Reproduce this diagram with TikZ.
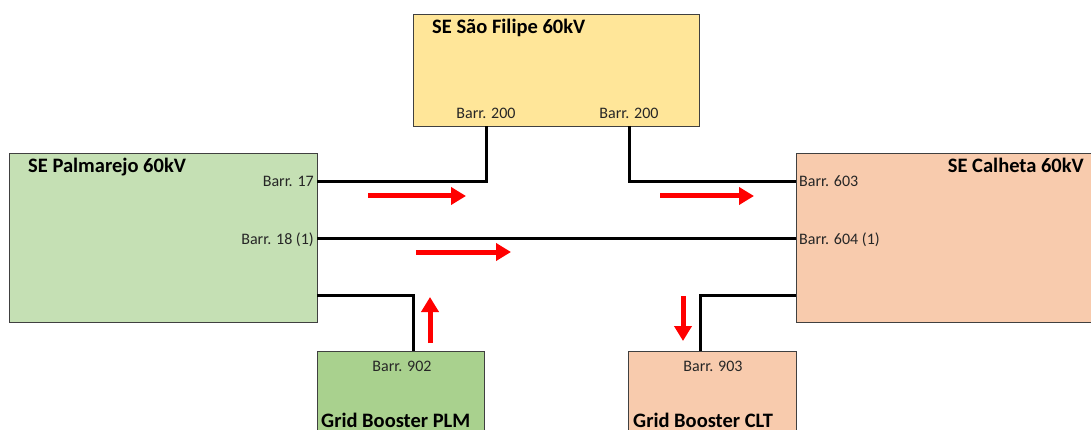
\documentclass[tikz,border=0pt]{standalone}
\usepackage{fontspec}
\setmainfont{Carlito}
\usetikzlibrary{arrows.meta}
\definecolor{cyel}{HTML}{FFE699}
\definecolor{cgrn}{HTML}{C5E0B4}
\definecolor{cdgrn}{HTML}{A9D18E}
\definecolor{corg}{HTML}{F8CBAD}
\tikzset{
  box/.style={draw=black!75, line width=0.9pt, anchor=north west, inner sep=0pt},
  ttl/.style={font=\fontsize{20.5}{24}\selectfont\bfseries, inner sep=0pt},
  bar/.style={font=\fontsize{16}{19}\selectfont, text=black!85, inner sep=0pt},
  wire/.style={draw=black, line width=3pt},
  flow/.style={draw=red, line width=5pt, -{Triangle[length=15pt,width=17pt]}}
}
\begin{document}
\begin{tikzpicture}[x=1pt,y=1pt]
\useasboundingbox[fill=white] (0,0) rectangle (1091,-430);
% boxes
\node[box, fill=cyel, minimum width=286pt, minimum height=112pt] (sf) at (413,-14) {};
\node[box, fill=cgrn, minimum width=308pt, minimum height=169pt] (pal) at (9,-153) {};
\node[box, fill=corg, minimum width=300pt, minimum height=169pt] (cal) at (796,-153) {};
\node[box, fill=cdgrn, minimum width=167pt, minimum height=90pt] (plm) at (317,-351) {};
\node[box, fill=corg, minimum width=168pt, minimum height=90pt] (clt) at (628,-351) {};
% titles
\node[ttl, anchor=base west] (tsf) at (432,-34) {SE São Filipe 60kV};
\node[ttl, anchor=base west] (tpal) at (28,-173) {SE Palmarejo 60kV};
\node[ttl, anchor=base east] (tcal) at (1084,-173) {SE Calheta 60kV};
\node[ttl, anchor=base west] (tplm) at (321,-427) {Grid Booster PLM};
\node[ttl, anchor=base west] (tclt) at (633,-427) {Grid Booster CLT};
% bar labels
\node[bar, anchor=base] (b200a) at (486,-119) {Barr. 200};
\node[bar, anchor=base] (b200b) at (629,-119) {Barr. 200};
\node[bar, anchor=base east] (b17) at (314,-187) {Barr. 17};
\node[bar, anchor=base east] (b18) at (314,-244) {Barr. 18 (1)};
\node[bar, anchor=base west] (b603) at (799,-187) {Barr. 603};
\node[bar, anchor=base west] (b604) at (799,-244) {Barr. 604 (1)};
\node[bar, anchor=base] (b902) at (402,-371) {Barr. 902};
\node[bar, anchor=base] (b903) at (713,-371) {Barr. 903};
% ports
\coordinate (p17) at (317,-182);
\coordinate (p18) at (317,-239);
\coordinate (pl3) at (317,-295);
\coordinate (s1) at (486,-126);
\coordinate (s2) at (629,-126);
\coordinate (p603) at (796,-182);
\coordinate (p604) at (796,-239);
\coordinate (c3) at (796,-295);
\coordinate (g1) at (413,-351);
\coordinate (g2) at (700,-351);
% wires
\draw[wire] (p17) -| (s1);
\draw[wire] (s2) |- (p603);
\draw[wire] (p18) -- (p604);
\draw[wire] (pl3) -| (g1);
\draw[wire] (c3) -| (g2);
% flow arrows
\coordinate (a1s) at (368,-196); \coordinate (a1e) at (466,-196);
\coordinate (a2s) at (660,-196); \coordinate (a2e) at (754,-196);
\coordinate (a3s) at (416,-252); \coordinate (a3e) at (511,-252);
\coordinate (a4s) at (430,-343); \coordinate (a4e) at (430,-297);
\coordinate (a5s) at (683,-296); \coordinate (a5e) at (683,-341);
\draw[flow] (a1s) -- (a1e);
\draw[flow] (a2s) -- (a2e);
\draw[flow] (a3s) -- (a3e);
\draw[flow] (a4s) -- (a4e);
\draw[flow] (a5s) -- (a5e);
\end{tikzpicture}
\end{document}
